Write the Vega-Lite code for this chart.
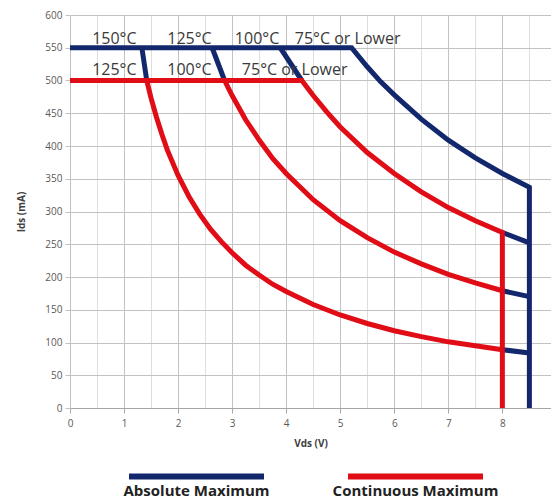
{
  "$schema": "https://vega.github.io/schema/vega-lite/v6.json",
  "width": 481,
  "height": 393,
  "autosize": {"type": "none"},
  "padding": {"left": 70, "top": 15, "right": 0, "bottom": 93},
  "background": "white",
  "config": {"view": {"stroke": null}, "font": "Open Sans"},
  "datasets": {
    "curves": [
      {"s": "b75", "g": "Absolute Maximum", "i": 0, "x": 0, "y": 550},
      {"s": "b75", "g": "Absolute Maximum", "i": 1, "x": 5.21, "y": 550},
      {"s": "b75", "g": "Absolute Maximum", "i": 2, "x": 5.5, "y": 521},
      {"s": "b75", "g": "Absolute Maximum", "i": 3, "x": 5.75, "y": 498},
      {"s": "b75", "g": "Absolute Maximum", "i": 4, "x": 6, "y": 478},
      {"s": "b75", "g": "Absolute Maximum", "i": 5, "x": 6.5, "y": 441},
      {"s": "b75", "g": "Absolute Maximum", "i": 6, "x": 7, "y": 409},
      {"s": "b75", "g": "Absolute Maximum", "i": 7, "x": 7.5, "y": 382},
      {"s": "b75", "g": "Absolute Maximum", "i": 8, "x": 8, "y": 358},
      {"s": "b75", "g": "Absolute Maximum", "i": 9, "x": 8.5, "y": 337},
      {"s": "b75", "g": "Absolute Maximum", "i": 10, "x": 8.5, "y": 0},
      {"s": "b100a", "g": "Absolute Maximum", "i": 0, "x": 3.89, "y": 550},
      {"s": "b100a", "g": "Absolute Maximum", "i": 1, "x": 4.29, "y": 500},
      {"s": "b100b", "g": "Absolute Maximum", "i": 0, "x": 8, "y": 268},
      {"s": "b100b", "g": "Absolute Maximum", "i": 1, "x": 8.5, "y": 252},
      {"s": "b125a", "g": "Absolute Maximum", "i": 0, "x": 2.63, "y": 550},
      {"s": "b125a", "g": "Absolute Maximum", "i": 1, "x": 2.86, "y": 500},
      {"s": "b125b", "g": "Absolute Maximum", "i": 0, "x": 8, "y": 179},
      {"s": "b125b", "g": "Absolute Maximum", "i": 1, "x": 8.5, "y": 170},
      {"s": "b150a", "g": "Absolute Maximum", "i": 0, "x": 1.33, "y": 550},
      {"s": "b150a", "g": "Absolute Maximum", "i": 1, "x": 1.42, "y": 500},
      {"s": "b150b", "g": "Absolute Maximum", "i": 0, "x": 8, "y": 89},
      {"s": "b150b", "g": "Absolute Maximum", "i": 1, "x": 8.5, "y": 84},
      {"s": "r75", "g": "Continuous Maximum", "i": 0, "x": 0, "y": 500},
      {"s": "r75", "g": "Continuous Maximum", "i": 1, "x": 4.29, "y": 500},
      {"s": "r75", "g": "Continuous Maximum", "i": 2, "x": 4.5, "y": 477},
      {"s": "r75", "g": "Continuous Maximum", "i": 3, "x": 4.75, "y": 452},
      {"s": "r75", "g": "Continuous Maximum", "i": 4, "x": 5, "y": 429},
      {"s": "r75", "g": "Continuous Maximum", "i": 5, "x": 5.5, "y": 390},
      {"s": "r75", "g": "Continuous Maximum", "i": 6, "x": 6, "y": 358},
      {"s": "r75", "g": "Continuous Maximum", "i": 7, "x": 6.5, "y": 330},
      {"s": "r75", "g": "Continuous Maximum", "i": 8, "x": 7, "y": 306},
      {"s": "r75", "g": "Continuous Maximum", "i": 9, "x": 7.5, "y": 286},
      {"s": "r75", "g": "Continuous Maximum", "i": 10, "x": 8, "y": 268},
      {"s": "r75", "g": "Continuous Maximum", "i": 11, "x": 8, "y": 0},
      {"s": "r100", "g": "Continuous Maximum", "i": 0, "x": 2.86, "y": 500},
      {"s": "r100", "g": "Continuous Maximum", "i": 1, "x": 3, "y": 477},
      {"s": "r100", "g": "Continuous Maximum", "i": 2, "x": 3.25, "y": 440},
      {"s": "r100", "g": "Continuous Maximum", "i": 3, "x": 3.5, "y": 409},
      {"s": "r100", "g": "Continuous Maximum", "i": 4, "x": 3.75, "y": 381},
      {"s": "r100", "g": "Continuous Maximum", "i": 5, "x": 4, "y": 358},
      {"s": "r100", "g": "Continuous Maximum", "i": 6, "x": 4.5, "y": 318},
      {"s": "r100", "g": "Continuous Maximum", "i": 7, "x": 5, "y": 286},
      {"s": "r100", "g": "Continuous Maximum", "i": 8, "x": 5.5, "y": 260},
      {"s": "r100", "g": "Continuous Maximum", "i": 9, "x": 6, "y": 238},
      {"s": "r100", "g": "Continuous Maximum", "i": 10, "x": 6.5, "y": 220},
      {"s": "r100", "g": "Continuous Maximum", "i": 11, "x": 7, "y": 204},
      {"s": "r100", "g": "Continuous Maximum", "i": 12, "x": 7.5, "y": 191},
      {"s": "r100", "g": "Continuous Maximum", "i": 13, "x": 8, "y": 179},
      {"s": "r125", "g": "Continuous Maximum", "i": 0, "x": 1.42, "y": 500},
      {"s": "r125", "g": "Continuous Maximum", "i": 1, "x": 1.5, "y": 473},
      {"s": "r125", "g": "Continuous Maximum", "i": 2, "x": 1.6, "y": 444},
      {"s": "r125", "g": "Continuous Maximum", "i": 3, "x": 1.7, "y": 418},
      {"s": "r125", "g": "Continuous Maximum", "i": 4, "x": 1.8, "y": 394},
      {"s": "r125", "g": "Continuous Maximum", "i": 5, "x": 2, "y": 355},
      {"s": "r125", "g": "Continuous Maximum", "i": 6, "x": 2.2, "y": 323},
      {"s": "r125", "g": "Continuous Maximum", "i": 7, "x": 2.4, "y": 296},
      {"s": "r125", "g": "Continuous Maximum", "i": 8, "x": 2.6, "y": 273},
      {"s": "r125", "g": "Continuous Maximum", "i": 9, "x": 2.8, "y": 254},
      {"s": "r125", "g": "Continuous Maximum", "i": 10, "x": 3, "y": 237},
      {"s": "r125", "g": "Continuous Maximum", "i": 11, "x": 3.25, "y": 218},
      {"s": "r125", "g": "Continuous Maximum", "i": 12, "x": 3.5, "y": 203},
      {"s": "r125", "g": "Continuous Maximum", "i": 13, "x": 3.75, "y": 189},
      {"s": "r125", "g": "Continuous Maximum", "i": 14, "x": 4, "y": 178},
      {"s": "r125", "g": "Continuous Maximum", "i": 15, "x": 4.5, "y": 158},
      {"s": "r125", "g": "Continuous Maximum", "i": 16, "x": 5, "y": 142},
      {"s": "r125", "g": "Continuous Maximum", "i": 17, "x": 5.5, "y": 129},
      {"s": "r125", "g": "Continuous Maximum", "i": 18, "x": 6, "y": 118},
      {"s": "r125", "g": "Continuous Maximum", "i": 19, "x": 6.5, "y": 109},
      {"s": "r125", "g": "Continuous Maximum", "i": 20, "x": 7, "y": 101},
      {"s": "r125", "g": "Continuous Maximum", "i": 21, "x": 7.5, "y": 95},
      {"s": "r125", "g": "Continuous Maximum", "i": 22, "x": 8, "y": 89}
    ],
    "notes": [
      {"t": "150°C", "x": 0.41, "y": 564},
      {"t": "125°C", "x": 1.8, "y": 564},
      {"t": "100°C", "x": 3.05, "y": 564},
      {"t": "75°C or Lower", "x": 4.16, "y": 564},
      {"t": "125°C", "x": 0.41, "y": 516},
      {"t": "100°C", "x": 1.8, "y": 516},
      {"t": "75°C or Lower", "x": 3.18, "y": 516}
    ]
  },
  "encoding": {
    "x": {
      "field": "x",
      "type": "quantitative",
      "scale": {"domain": [0, 8.9], "nice": false, "zero": false},
      "axis": {
        "values": [0, 0.5, 1, 1.5, 2, 2.5, 3, 3.5, 4, 4.5, 5, 5.5, 6, 6.5, 7, 7.5, 8, 8.5],
        "format": "~g",
        "labelExpr": "datum.value % 1 === 0 ? datum.label : ''",
        "gridColor": {"condition": {"test": "datum.value % 1 === 0", "value": "#c2c2c2"}, "value": "#dedede"},
        "tickColor": {"condition": {"test": "datum.value % 1 === 0", "value": "#a6a6a6"}, "value": "transparent"},
        "tickSize": 5,
        "domainColor": "#a6a6a6",
        "labelColor": "#595959",
        "labelFontSize": 10,
        "labelPadding": 5,
        "labelFlush": false,
        "labelOverlap": false,
        "title": "Vds (V)",
        "titleFontSize": 10,
        "titleFontWeight": "bold",
        "titleColor": "#404040",
        "titlePadding": 10
      }
    },
    "y": {
      "field": "y",
      "type": "quantitative",
      "scale": {"domain": [0, 600], "nice": false},
      "axis": {
        "values": [0, 50, 100, 150, 200, 250, 300, 350, 400, 450, 500, 550, 600],
        "gridColor": "#c2c2c2",
        "tickColor": "#c2c2c2",
        "tickSize": 5,
        "domain": false,
        "labelColor": "#595959",
        "labelFontSize": 10,
        "labelPadding": 3,
        "title": "Ids (mA)",
        "titleFontSize": 10,
        "titleFontWeight": "bold",
        "titleColor": "#404040",
        "titlePadding": 18
      }
    }
  },
  "layer": [
    {
      "data": {"name": "curves"},
      "transform": [{"filter": "datum.g === 'Absolute Maximum'"}],
      "mark": {"type": "line", "strokeWidth": 5},
      "encoding": {
        "detail": {"field": "s"},
        "order": {"field": "i", "type": "quantitative"},
        "color": {
          "field": "g",
          "type": "nominal",
          "scale": {"domain": ["Absolute Maximum", "Continuous Maximum"], "range": ["#13286c", "#e00d16"]},
          "legend": {
            "orient": "none", "legendX": 56, "legendY": 405.5, "direction": "horizontal", "title": null,
            "symbolType": "M-1,-0.22L1,-0.22", "symbolSize": 18225, "symbolStrokeWidth": 6,
            "labelAlign": "center", "labelOffset": -70.5, "labelBaseline": "middle",
            "labelFontSize": 15, "labelFontWeight": "bold", "labelFont": "Open Sans", "labelColor": "#222222",
            "labelLimit": 400, "columnPadding": 56, "padding": 0
          }
        }
      }
    },
    {
      "data": {"name": "curves"},
      "transform": [{"filter": "datum.g === 'Continuous Maximum'"}],
      "mark": {"type": "line", "strokeWidth": 5},
      "encoding": {
        "detail": {"field": "s"},
        "order": {"field": "i", "type": "quantitative"},
        "color": {
          "field": "g",
          "type": "nominal",
          "scale": {"domain": ["Absolute Maximum", "Continuous Maximum"], "range": ["#13286c", "#e00d16"]},
          "legend": {
            "orient": "none", "legendX": 56, "legendY": 405.5, "direction": "horizontal", "title": null,
            "symbolType": "M-1,-0.22L1,-0.22", "symbolSize": 18225, "symbolStrokeWidth": 6,
            "labelAlign": "center", "labelOffset": -70.5, "labelBaseline": "middle",
            "labelFontSize": 15, "labelFontWeight": "bold", "labelFont": "Open Sans", "labelColor": "#222222",
            "labelLimit": 400, "columnPadding": 56, "padding": 0
          }
        }
      }
    },
    {
      "data": {"name": "notes"},
      "mark": {"type": "text", "align": "left", "baseline": "middle", "fontSize": 16, "color": "#3a3a3a", "font": "Open Sans"},
      "encoding": {"text": {"field": "t"}}
    }
  ]
}
